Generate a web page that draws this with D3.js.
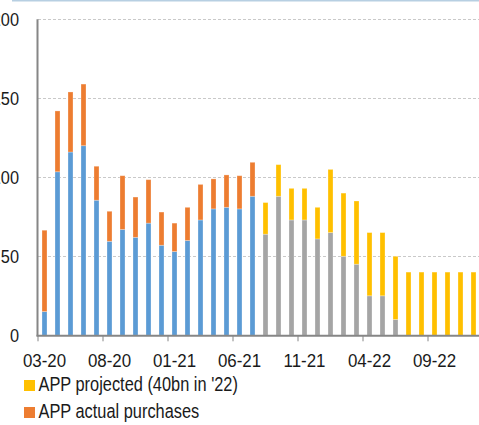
<!DOCTYPE html>
<html><head><meta charset="utf-8">
<script src="https://cdn.jsdelivr.net/npm/d3@7"></script>
<style>
html,body{margin:0;padding:0;background:#fff;}
svg{display:block;}
text{font-family:"Liberation Sans",Arial,sans-serif;fill:#1a1a1a;}
</style></head>
<body><svg id="c" width="479" height="425"></svg>
<script>
const categories = ["03-20","04-20","05-20","06-20","07-20","08-20","09-20","10-20","11-20","12-20",
  "01-21","02-21","03-21","04-21","05-21","06-21","07-21","08-21","09-21","10-21","11-21","12-21",
  "01-22","02-22","03-22","04-22","05-22","06-22","07-22","08-22","09-22","10-22","11-22","12-22"];
const tickLabels = ["03-20","08-20","01-21","06-21","11-21","04-22","09-22"];
const yTicks = [0,50,100,150,200];
// PEPP actual purchases (blue)
const peppActual = [15,103.5,116,120,85.5,59.5,67,62,71,57,53,60,73,80,81,80,88,
  0,0,0,0,0,0,0,0,0,0,0,0,0,0,0,0,0];
// APP actual purchases (orange)
const appActual = [51.5,38.5,38,39,21.5,19,34,25.5,27.5,21,18,21,22.5,19,20.5,21,21.5,
  0,0,0,0,0,0,0,0,0,0,0,0,0,0,0,0,0];
// PEPP projected (grey)
const peppProjected = [0,0,0,0,0,0,0,0,0,0,0,0,0,0,0,0,0,
  64,88,73,73,61,65,50,45,25,25,10,0,0,0,0,0,0];
// APP projected (yellow)
const appProjected = [0,0,0,0,0,0,0,0,0,0,0,0,0,0,0,0,0,
  20,20,20,20,20,40,40,40,40,40,40,40,40,40,40,40,40];

const legendItems = [
  {label:"APP projected (40bn in '22)", color:"#ffc000"},
  {label:"APP actual purchases", color:"#ed7d31"}
];

const svg = d3.select("#c");
const mLeft = 38, mRight = 480, mTop = 19.3, mBottom = 335.3;

const x = d3.scaleBand().domain(categories).range([mLeft, mRight])
  .paddingInner(8/13).paddingOuter(4/13);
const y = d3.scaleLinear().domain([0,200]).range([mBottom, mTop]);
const step = x.step();

// top border line
svg.append("line").attr("x1",12).attr("x2",479).attr("y1",0.75).attr("y2",0.75)
  .attr("stroke","#b7cfe2").attr("stroke-width",1.5);

// gridlines
svg.append("g").selectAll("line").data(yTicks.filter(d=>d>0)).join("line")
  .attr("x1",mLeft).attr("x2",479)
  .attr("y1",d=>Math.round(y(d))+0.5).attr("y2",d=>Math.round(y(d))+0.5)
  .attr("stroke","#c9c9c9").attr("stroke-width",1).attr("stroke-dasharray","3,2");

// y labels (condensed like the original)
svg.append("g").selectAll("text").data(yTicks).join("text")
  .attr("transform",d=>`translate(19,${y(d)}) scale(0.86,1)`).attr("dy","0.36em")
  .attr("text-anchor","end").style("font-size","19px").text(d=>d);

// stacked bars
const layers = [
  {vals:peppActual, base:null, color:"#5b9bd5"},
  {vals:appActual, base:peppActual, color:"#ed7d31"},
  {vals:peppProjected, base:null, color:"#a5a5a5"},
  {vals:appProjected, base:peppProjected, color:"#ffc000"}
];
const gb = svg.append("g");
layers.forEach(L=>{
  const data = categories.map((c,i)=>({c, v:L.vals[i], b:L.base?L.base[i]:0})).filter(d=>d.v>0);
  gb.append("g").selectAll("rect").data(data).join("rect")
    .attr("x",d=>x(d.c)).attr("width",x.bandwidth())
    .attr("y",d=>y(d.b+d.v)).attr("height",d=>y(d.b)-y(d.b+d.v))
    .attr("fill",L.color).attr("stroke","#ffffff").attr("stroke-opacity",0.35).attr("stroke-width",0.8);
});

// axes lines
svg.append("line").attr("x1",mLeft-0.5).attr("x2",mLeft-0.5).attr("y1",mTop).attr("y2",mBottom+1)
  .attr("stroke","#868686").attr("stroke-width",2);
svg.append("line").attr("x1",mLeft-1.5).attr("x2",479).attr("y1",mBottom+0.5).attr("y2",mBottom+0.5)
  .attr("stroke","#868686").attr("stroke-width",2);

// x ticks and labels
const gx = svg.append("g");
gx.selectAll("line").data(tickLabels).join("line")
  .attr("x1",d=>x(d)-x.paddingOuter()*step).attr("x2",d=>x(d)-x.paddingOuter()*step)
  .attr("y1",mBottom).attr("y2",mBottom+6).attr("stroke","#868686").attr("stroke-width",1);
gx.selectAll("text").data(tickLabels).join("text")
  .attr("transform",d=>`translate(${x(d)+x.bandwidth()/2},367) scale(0.89,1)`)
  .attr("text-anchor","middle").style("font-size","19px").text(d=>d);

// legend
const lg = svg.append("g");
legendItems.forEach((it,i)=>{
  const yy = 380 + i*27;
  lg.append("rect").attr("x",24).attr("y",yy).attr("width",11).attr("height",11).attr("fill",it.color);
  lg.append("text").attr("transform",`translate(38.5,${yy+11}) scale(0.84,1)`)
    .style("font-size","19.5px").text(it.label);
});
</script></body></html>
